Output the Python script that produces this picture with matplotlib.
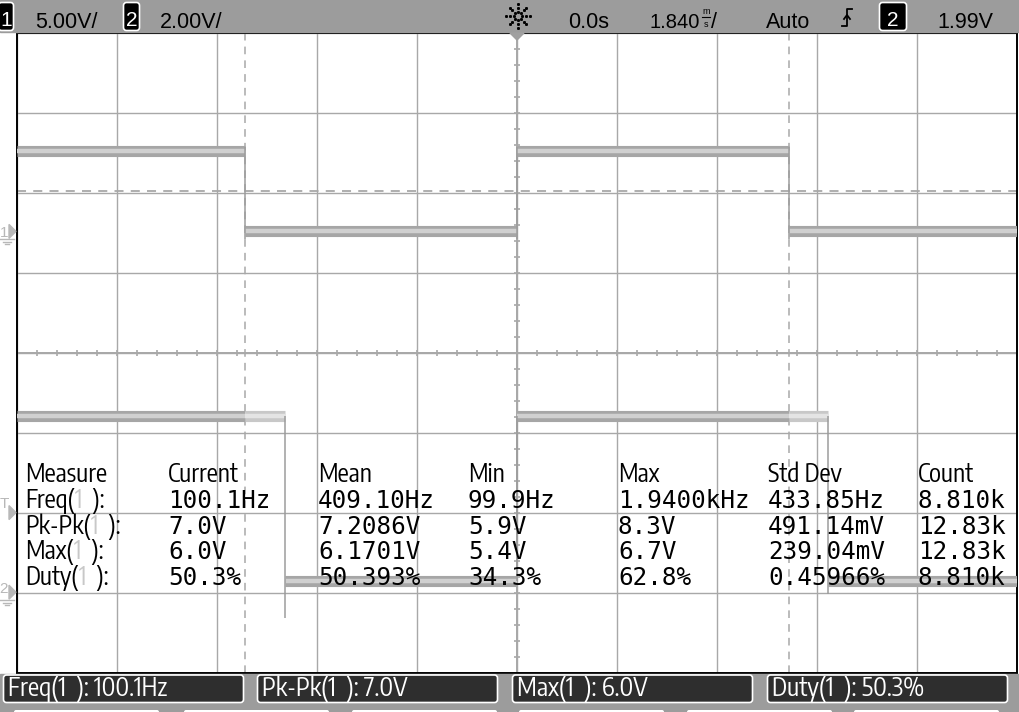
import numpy as np
import matplotlib
matplotlib.use('Agg')
import matplotlib.pyplot as plt
from matplotlib import font_manager
from matplotlib.font_manager import FontProperties
from matplotlib.patches import Rectangle, FancyBboxPatch, Polygon

# scope settings
TIME_PER_DIV = 1.84          # ms / div
CH1_VOLTS_PER_DIV = 5.0
CH2_VOLTS_PER_DIV = 2.0
CH1_GROUND_DIV = 1.52        # ground marker position, divisions from centre
CH2_GROUND_DIV = -2.99
TRIGGER_LEVEL = 1.99         # V on channel 2
CH1_THRESHOLD = 2.5          # V, measurement threshold of channel 1
CURSOR_TIMES = [-5.0, 5.0]   # ms

# channel 1 trace segments: start ms, end ms, volts
CH1_T0 = [-9.2, -5.0, 0.0, 5.0]
CH1_T1 = [-5.0, 0.0, 5.0, 9.2]
CH1_V = [5.0, 0.0, 5.0, 0.0]

# channel 2 trace segments, jitter = persistence smear before the falling edge
CH2_T0 = [-9.2, -5.0, -4.27, 0.0, 5.0, 5.72]
CH2_T1 = [-5.0, -4.27, 0.0, 5.0, 5.72, 9.2]
CH2_V = [4.4, 4.4, 0.27, 4.4, 4.4, 0.27]
CH2_JITTER = [False, True, False, False, True, False]
CH2_EDGE_T = [-4.27, 0.0, 5.72]
CH2_EDGE_LO = [-0.65, 0.27, -0.05]
CH2_EDGE_HI = [4.4, 4.4, 4.4]

# measurement table
MEAS_COLS = ['Measure', 'Current', 'Mean', 'Min', 'Max', 'Std Dev', 'Count']
MEAS_NAMES = ['Freq', 'Pk-Pk', 'Max', 'Duty']
CURRENT = ['100.1Hz', '7.0V', '6.0V', '50.3%']
MEAN = ['409.10Hz', '7.2086V', '6.1701V', '50.393%']
MINIMUM = ['99.9Hz', '5.9V', '5.4V', '34.3%']
MAXIMUM = ['1.9400kHz', '8.3V', '6.7V', '62.8%']
STD_DEV = ['433.85Hz', '491.14mV', '239.04mV', '0.45966%']
COUNT = ['8.810k', '12.83k', '12.83k', '8.810k']

GRID = '#a8a8a8'
BAR = '#9c9c9c'
SANS = ['Liberation Sans', 'DejaVu Sans']
MONO = 'DejaVu Sans Mono'

fig = plt.figure(figsize=(10.19, 7.12), dpi=100)
fig.patch.set_facecolor('white')

# graticule
ax = fig.add_axes([17 / 1019, 39 / 712, 1000 / 1019, 640 / 712])
ax.set_xlim(-5 * TIME_PER_DIV, 5 * TIME_PER_DIV)
ax.set_ylim(-4, 4)
ax.set_xticks(np.arange(-5, 6) * TIME_PER_DIV)
ax.set_yticks(np.arange(-4, 5))
ax.tick_params(length=0, labelbottom=False, labelleft=False)
ax.grid(True, color=GRID, lw=1.0)
ax.set_axisbelow(True)
for sp in ax.spines.values():
    sp.set_color('black')
    sp.set_linewidth(1.4)

# centre axes with fifth-division ticks
ax.axhline(0, color=GRID, lw=1.4, zorder=1)
ax.axvline(0, color=GRID, lw=1.4, zorder=1)
ax.plot(np.arange(-5, 5.01, 0.2) * TIME_PER_DIV, np.zeros(51), '|',
        color=GRID, ms=4.5, mew=1.2, zorder=1)
ax.plot(np.zeros(41), np.arange(-4, 4.01, 0.2), '_',
        color=GRID, ms=4.5, mew=1.2, zorder=1)

# cursors and threshold
for t in CURSOR_TIMES:
    ax.axvline(t, color=GRID, lw=1.1, ls=(0, (5, 4)), zorder=2)
ax.axhline(CH1_GROUND_DIV + CH1_THRESHOLD / CH1_VOLTS_PER_DIV,
           color=GRID, lw=1.3, ls=(0, (5, 4)), zorder=2)


def band(y, t0, t1, outer, inner):
    ax.hlines(y, t0, t1, color=outer, lw=8, capstyle='butt', zorder=3)
    ax.hlines(y, t0, t1, color=inner, lw=3.2, capstyle='butt', zorder=3)


# channel 1
ch1_y = CH1_GROUND_DIV + np.array(CH1_V) / CH1_VOLTS_PER_DIV
for i in range(len(CH1_V)):
    band(ch1_y[i], CH1_T0[i], CH1_T1[i], '#a6a6a6', '#d0d0d0')
for i in range(len(CH1_V) - 1):
    ax.vlines(CH1_T1[i], min(ch1_y[i], ch1_y[i + 1]) - 0.1,
              max(ch1_y[i], ch1_y[i + 1]) + 0.05, color='#9c9c9c', lw=1.1, zorder=3)

# channel 2
ch2_y = CH2_GROUND_DIV + np.array(CH2_V) / CH2_VOLTS_PER_DIV
for i in range(len(CH2_V)):
    if CH2_JITTER[i]:
        band(ch2_y[i], CH2_T0[i], CH2_T1[i], '#c8c8c8', '#e4e4e4')
    else:
        band(ch2_y[i], CH2_T0[i], CH2_T1[i], '#a6a6a6', '#d0d0d0')
for t, lo, hi in zip(CH2_EDGE_T, CH2_EDGE_LO, CH2_EDGE_HI):
    ax.vlines(t, CH2_GROUND_DIV + lo / CH2_VOLTS_PER_DIV,
              CH2_GROUND_DIV + hi / CH2_VOLTS_PER_DIV, color='#9c9c9c', lw=1.1, zorder=3)

# overlay in pixel units
ov = fig.add_axes([0, 0, 1, 1])
ov.set_xlim(0, 1019)
ov.set_ylim(712, 0)
ov.axis('off')

renderer = fig.canvas.get_renderer()


def div_to_px(d):
    return ov.transData.inverted().transform(ax.transData.transform((0, d)))[1]


def time_to_px(t):
    return ov.transData.inverted().transform(ax.transData.transform((t, 0)))[0]


def text_width(s, fp):
    t = ov.text(0, 0, s, fontproperties=fp)
    w = t.get_window_extent(renderer=renderer).width
    t.remove()
    return w


# the scope uses a narrow sans; pick the installed one whose width fits best
cands = [FontProperties(family='Liberation Sans')]
for f in font_manager.fontManager.ttflist:
    n = f.fname.lower()
    if ('narrow' in n or 'condensed' in n) and f.style == 'normal' and 'mono' not in n:
        if not any(k in n for k in ('bold', 'italic', 'oblique', 'light', 'thin', 'semi', 'medium', 'black', 'extra')):
            cands.append(FontProperties(fname=f.fname))
for fp in cands:
    fp.set_size(18)
narrow = min(cands, key=lambda fp: abs(text_width('Measure', fp) - 82))
label_size = float(np.clip(18 * 82 / text_width('Measure', narrow), 15.5, 19.5))
box_size = float(np.clip(18 * 159 / text_width('Freq(1  ): 100.1Hz', narrow), 15.0, 19.5))


def nfont(size):
    fp = narrow.copy()
    fp.set_size(size)
    return fp


def pieces(x, y, parts, fp, **kw):
    for s, c in parts:
        t = ov.text(x, y, s, color=c, fontproperties=fp, **kw)
        x += t.get_window_extent(renderer=renderer).width


# top status bar
ov.add_patch(Rectangle((0, 0), 1019, 32.3, color=BAR, zorder=5))


def chan_box(x0, x1, label):
    ov.add_patch(FancyBboxPatch((x0 + 2, 4), x1 - x0 - 4, 25,
                                boxstyle='round,pad=1.5,rounding_size=3',
                                fc='black', ec='white', lw=1.2, zorder=6))
    ov.text((x0 + x1) / 2, 26.5, label, color='white', fontsize=15,
            family=SANS, ha='center', va='baseline', zorder=7)


chan_box(-2, 14, '1')
ov.text(35, 28, '5.00V/', fontsize=15.5, family=SANS, va='baseline', zorder=7)
chan_box(123, 140, '2')
ov.text(160, 28, '2.00V/', fontsize=15.5, family=SANS, va='baseline', zorder=7)

# run indicator
ang = np.arange(8) * np.pi / 4
rr = np.array([4.0, 8.0, 12.0])
sx = 518 + np.outer(rr, np.cos(ang)).ravel()
sy = 16 + np.outer(rr, np.sin(ang)).ravel()
ov.plot(sx, sy, 's', ms=1.1, color='black', zorder=7)

ov.text(568, 28, '0.0s', fontsize=15.5, family=SANS, va='baseline', zorder=7)
ov.text(650, 28, '1.840', fontsize=14.5, family=SANS, va='baseline', zorder=7)
ov.text(706, 14, 'm', fontsize=6.5, family=SANS, ha='center', va='baseline', zorder=7)
ov.text(706, 27, 's', fontsize=6.5, family=SANS, ha='center', va='baseline', zorder=7)
ov.plot([702, 710], [17, 17], color='black', lw=0.8, zorder=7)
ov.text(711, 28, '/', fontsize=15.5, family=SANS, va='baseline', zorder=7)
ov.text(766, 28, 'Auto', fontsize=15.5, family=SANS, va='baseline', zorder=7)
ov.plot([842, 847, 847, 852], [26, 26, 9, 9], color='black', lw=1.3, zorder=7)
ov.plot([844, 847, 850], [19, 15, 19], color='black', lw=1.3, zorder=7)
chan_box(879, 907, '2')
ov.text(937, 28, '1.99V', fontsize=15.5, family=SANS, va='baseline', zorder=7)

# trigger position marker
tx = time_to_px(0.0)
ov.add_patch(Polygon([[tx - 7, 33], [tx + 7, 33], [tx, 40]], color='#a0a0a0', zorder=6))

# left margin markers
MARK = '#b8b8b8'


def ground_marker(div, label, dy, ground=True):
    y = div_to_px(div)
    ov.add_patch(Polygon([[9, y - 7], [16, y], [9, y + 7]], color=MARK, zorder=6))
    ov.text(4, y + dy, label, color=MARK, fontsize=11, family=SANS,
            ha='center', va='baseline', zorder=6)
    if ground:
        for k, (a, b) in enumerate([(0, 14), (3, 11), (5, 9)]):
            ov.plot([a, b], [y + 8 + 2.5 * k] * 2, color=MARK, lw=1.0, zorder=6)


ground_marker(CH1_GROUND_DIV, '1', 6)
ground_marker(CH2_GROUND_DIV + TRIGGER_LEVEL / CH2_VOLTS_PER_DIV, 'T', -5, ground=False)
ground_marker(CH2_GROUND_DIV, '2', 1)

# measurement table
col_x = [25, 168, 318, 468, 618, 768, 918]
row_y = [482 + 25.75 * i for i in range(5)]
for x, name in zip(col_x, MEAS_COLS):
    ov.text(x, row_y[0], name, fontproperties=nfont(label_size), va='baseline', zorder=8)
columns = [CURRENT, MEAN, MINIMUM, MAXIMUM, STD_DEV, COUNT]
for r, name in enumerate(MEAS_NAMES):
    y = row_y[r + 1]
    pieces(col_x[0], y, [(name + '(', 'black'), ('1', '#c8c8c8'), ('  ):', 'black')],
           nfont(label_size), va='baseline', zorder=8)
    for x, col in zip(col_x[1:], columns):
        ov.text(x, y, col[r], fontsize=17.5, family=MONO, va='baseline', zorder=8)

# bottom bar with quick measurements
ov.add_patch(Rectangle((0, 673.6), 1019, 40, color=BAR, zorder=5))
box_x = [3, 257, 512, 767]
for x, name, val in zip(box_x, MEAS_NAMES, CURRENT):
    ov.add_patch(FancyBboxPatch((x + 2, 676.5), 237, 24.5,
                                boxstyle='round,pad=1.5,rounding_size=3',
                                fc='#2e2e2e', ec='white', lw=1.2, zorder=6))
    ov.text(x + 5, 696, name + '(1  ): ' + val, color='white',
            fontproperties=nfont(box_size), va='baseline', zorder=7)
for x in [12, 182, 350, 517, 685, 852]:
    ov.add_patch(FancyBboxPatch((x + 2, 710), 145, 6,
                                boxstyle='round,pad=0,rounding_size=2',
                                fc='white', ec='none', zorder=6))

fig.savefig('out.png', dpi=100)
